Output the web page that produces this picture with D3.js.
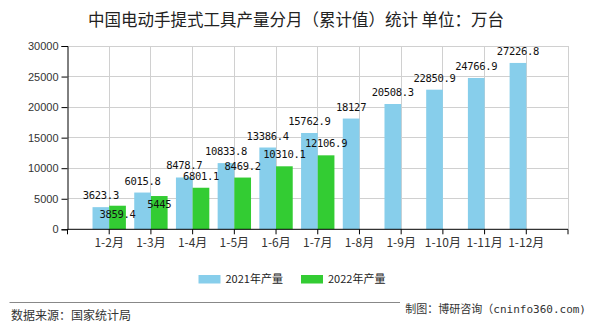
<!DOCTYPE html>
<html><head><meta charset="utf-8">
<script src="https://cdn.jsdelivr.net/npm/d3@7"></script>
<style>
body{margin:0;background:#fff;}
svg{display:block;}
</style></head>
<body>
<svg id="chart" width="590" height="330"></svg>
<script>
const categories = ["1-2月","1-3月","1-4月","1-5月","1-6月","1-7月","1-8月","1-9月","1-10月","1-11月","1-12月"];
const values2021 = [3623.3,6015.8,8478.7,10833.8,13386.4,15762.9,18127,20508.3,22850.9,24766.9,27226.8];
const values2022 = [3859.4,5445,6801.1,8469.2,10310.1,12106.9,null,null,null,null,null];
const seriesNames = ["2021年产量","2022年产量"];
const yTicks = [0,5000,10000,15000,20000,25000,30000];
const titleText = "中国电动手提式工具产量分月（累计值）统计 单位：万台";
const sourceText = "数据来源：国家统计局";
const creditText = "制图：博研咨询（cninfo360.com)";

(function(){
const colors = ["#87CEEB","#33CC33"];
const svg = d3.select("#chart");
const pLeft = 67.5, pRight = 568, pTop = 46, pBottom = 229.3;

const slot = d3.scaleLinear().domain([0, categories.length + 1]).range([pLeft, pRight]);
const xc = (i) => slot(i + 1);
const step = slot(1) - slot(0);
const bw = step * 0.4;
const y = d3.scaleLinear().domain([0, 30000]).range([pBottom, pTop]);

// gridlines
const g = svg.append("g");
g.selectAll(".hg").data(yTicks.filter(d => d > 0)).enter().append("line")
  .attr("x1", pLeft).attr("x2", pRight).attr("y1", d => y(d)).attr("y2", d => y(d))
  .attr("stroke", "#d0d0d0").attr("stroke-width", 1).attr("shape-rendering","crispEdges");
g.selectAll(".vg").data(d3.range(1, categories.length + 2)).enter().append("line")
  .attr("x1", d => slot(d)).attr("x2", d => slot(d)).attr("y1", pTop).attr("y2", pBottom)
  .attr("stroke", "#d0d0d0").attr("stroke-width", 1).attr("shape-rendering","crispEdges");

// bars
const series = [values2021, values2022];
series.forEach((vals, s) => {
  svg.append("g").selectAll("rect").data(vals.map((v,i)=>({v,i})).filter(d => d.v != null)).enter()
    .append("rect")
    .attr("x", d => s === 0 ? xc(d.i) - bw : xc(d.i))
    .attr("width", bw)
    .attr("y", d => y(d.v))
    .attr("height", d => y(0) - y(d.v))
    .attr("fill", colors[s]);
});

// axes
const yAxis = d3.axisLeft(y).tickValues(yTicks).tickSize(6).tickPadding(3).tickFormat(d3.format("d"));
const ya = svg.append("g").attr("transform", `translate(${pLeft},0)`).call(yAxis);
ya.select(".domain").attr("stroke", "#000");
ya.selectAll(".tick line").attr("stroke", "#000");
ya.selectAll("text").attr("font-family", "'Liberation Sans', Arial, sans-serif").attr("font-size", 11).attr("fill", "#333");

const xa = svg.append("g").attr("transform", `translate(0,${pBottom})`);
xa.append("line").attr("x1", pLeft).attr("x2", pRight).attr("y1", 0).attr("y2", 0).attr("stroke", "#000");
xa.selectAll(".tk").data(d3.range(0, categories.length + 2)).enter().append("line")
  .attr("x1", d => slot(d)).attr("x2", d => slot(d)).attr("y1", 0).attr("y2", 5).attr("stroke", "#000");
xa.selectAll("text").data(categories).enter().append("text")
  .attr("x", (d,i) => xc(i)).attr("y", 17.5).attr("text-anchor", "middle")
  .attr("font-family", "'Noto Sans CJK SC', sans-serif").attr("font-size", 12).attr("fill", "#333")
  .text(d => d);

// value labels with simple collision avoidance
const placed = [];
const shrink = (b) => ({x: b.x + 2, y: b.y + 2, width: b.width - 4, height: b.height - 4});
const overlaps = (a, b) => a.x < b.x + b.width && b.x < a.x + a.width && a.y < b.y + b.height && b.y < a.y + a.height;
series.forEach((vals, s) => {
  const lab = svg.append("g").selectAll("text").data(vals.map((v,i)=>({v,i})).filter(d => d.v != null)).enter()
    .append("text")
    .attr("x", d => s === 0 ? xc(d.i) - bw/2 : xc(d.i) + bw/2)
    .attr("y", d => y(d.v) - 8)
    .attr("text-anchor", "middle")
    .attr("font-family", "'DejaVu Sans Mono', monospace").attr("font-size", 10.5)
    .attr("letter-spacing", -0.3).attr("fill", "#111")
    .text(d => d.v);
  lab.each(function(d){
    let bb = shrink(this.getBBox());
    if (placed.some(p => overlaps(bb, p))) {
      d3.select(this).attr("y", y(d.v) + 12);
      bb = shrink(this.getBBox());
    }
    placed.push(bb);
  });
});

// title
svg.append("text").attr("x", 296).attr("y", 26).attr("text-anchor", "middle")
  .attr("font-family", "'Noto Sans CJK SC', sans-serif").attr("font-size", 16.5).attr("fill", "#222")
  .text(titleText);

// legend
const lg = svg.append("g");
const legX = [198.5, 301];
seriesNames.forEach((n, s) => {
  lg.append("rect").attr("x", legX[s]).attr("y", 275).attr("width", 22).attr("height", 8.5).attr("fill", colors[s]);
  lg.append("text").attr("x", legX[s] + 27).attr("y", 283).attr("font-family", "'Noto Sans CJK SC', sans-serif")
    .attr("font-size", 11).attr("fill", "#222").text(n);
});

// footer
svg.append("line").attr("x1", 9.5).attr("x2", 400).attr("y1", 302.5).attr("y2", 302.5).attr("stroke", "#888");
svg.append("text").attr("x", 11).attr("y", 320).attr("font-family", "'Noto Sans CJK SC', sans-serif")
  .attr("font-size", 12).attr("fill", "#333").text(sourceText);
svg.append("text").attr("x", 586).attr("y", 313).attr("text-anchor", "end").attr("font-family", "'DejaVu Sans Mono','Noto Sans CJK SC', monospace")
  .attr("font-size", 11).attr("fill", "#333").text(creditText);
})();
</script>
</body></html>
